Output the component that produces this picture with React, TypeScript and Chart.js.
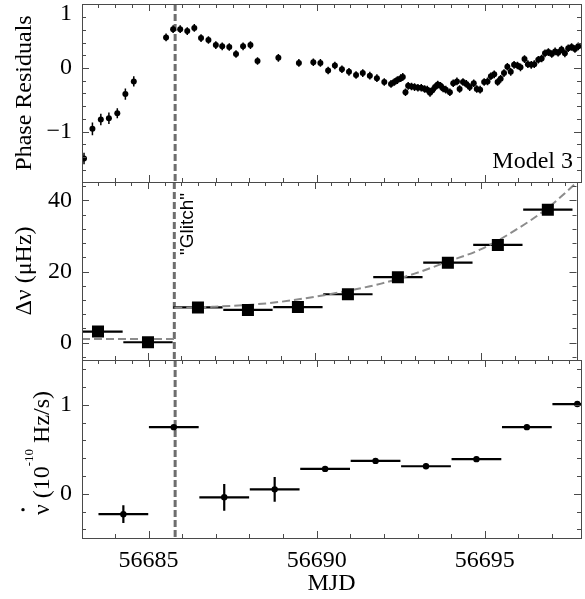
import React, { useEffect, useRef } from "react";
import { Chart, registerables } from "chart.js";

Chart.register(...registerables);

const SERIF = "'Liberation Serif', 'Times New Roman', Times, serif";
const SANS = "'Liberation Sans', Arial, Helvetica, sans-serif";
const FRAME = "#4a4a4a";

// ---- shared x axis ----
const X_MIN = 56683.02;
const X_MAX = 56697.86;
const xTickValues = [56685, 56690, 56695];
const GLITCH_MJD = 56685.79;

// ---- top panel: phase residuals ----
const phaseMjd = [
  56683.08, 56683.33, 56683.58, 56683.82, 56684.07, 56684.31, 56684.56, 56685.52, 56685.73, 56685.94,
  56686.15, 56686.36, 56686.56, 56686.78, 56687.0, 56687.19, 56687.4, 56687.6, 56687.81, 56688.03,
  56688.24, 56688.86, 56689.47, 56689.9, 56690.11, 56690.34, 56690.54, 56690.75, 56690.96, 56691.17,
  56691.37, 56691.58, 56691.79, 56692.01, 56692.21, 56692.31, 56692.4, 56692.5, 56692.56, 56692.64,
  56692.72, 56692.82, 56692.91, 56693.01, 56693.11, 56693.21, 56693.29, 56693.37, 56693.44, 56693.52,
  56693.6, 56693.68, 56693.76, 56693.84, 56693.96, 56694.06, 56694.17, 56694.25, 56694.35, 56694.45,
  56694.55, 56694.67, 56694.76, 56694.86, 56694.98, 56695.08, 56695.18, 56695.28, 56695.38, 56695.47,
  56695.57, 56695.67, 56695.77, 56695.87, 56695.97, 56696.06, 56696.18, 56696.28, 56696.38, 56696.47,
  56696.59, 56696.69, 56696.79, 56696.89, 56696.99, 56697.09, 56697.18, 56697.28, 56697.38, 56697.48,
  56697.58, 56697.68, 56697.78,
];
const phaseRes = [
  -1.42, -0.955, -0.81, -0.79, -0.71, -0.41, -0.21, 0.48, 0.61, 0.61,
  0.58, 0.63, 0.47, 0.44, 0.36, 0.34, 0.33, 0.22, 0.34, 0.36,
  0.11, 0.16, 0.08, 0.09, 0.08, -0.04, 0.04, -0.02, -0.06, -0.11,
  -0.08, -0.12, -0.16, -0.22, -0.25, -0.22, -0.19, -0.16, -0.14, -0.38,
  -0.28, -0.29, -0.3, -0.31, -0.31, -0.33, -0.34, -0.39, -0.35, -0.3,
  -0.26, -0.28, -0.32, -0.34, -0.38, -0.24, -0.21, -0.33, -0.22, -0.25,
  -0.3, -0.24, -0.33, -0.34, -0.22, -0.21, -0.13, -0.1, -0.22, -0.17,
  -0.08, 0.02, -0.06, 0.05, 0.04, 0.01, 0.14, 0.06, 0.05, 0.06,
  0.13, 0.15, 0.23, 0.25, 0.22, 0.26, 0.24, 0.29, 0.23, 0.31,
  0.33, 0.3, 0.34,
];
const phaseErr = [
  0.09, 0.1, 0.09, 0.09, 0.08, 0.09, 0.08, 0.06, 0.06, 0.06,
  0.06, 0.06, 0.06, 0.06, 0.06, 0.06, 0.06, 0.06, 0.06, 0.06,
  0.06, 0.06, 0.06, 0.06, 0.06, 0.06, 0.06, 0.06, 0.06, 0.06,
  0.06, 0.06, 0.06, 0.06, 0.06, 0.06, 0.06, 0.06, 0.06, 0.06,
  0.06, 0.06, 0.06, 0.06, 0.06, 0.06, 0.06, 0.06, 0.06, 0.06,
  0.06, 0.06, 0.06, 0.06, 0.06, 0.06, 0.06, 0.06, 0.06, 0.06,
  0.06, 0.06, 0.06, 0.06, 0.06, 0.06, 0.06, 0.06, 0.06, 0.06,
  0.06, 0.06, 0.06, 0.06, 0.06, 0.06, 0.06, 0.06, 0.06, 0.06,
  0.06, 0.06, 0.06, 0.06, 0.06, 0.06, 0.06, 0.06, 0.06, 0.06,
  0.06, 0.06, 0.06,
];
const PHASE_MIN = -1.79;
const PHASE_MAX = 1.005;
const phaseTicks = [-1, 0];
const phaseEdgeTick = [1];

// ---- middle panel: delta nu ----
const dnuMjd = [56683.5, 56685.0, 56686.5, 56688.0, 56689.5, 56691.0, 56692.5, 56694.0, 56695.5, 56697.0];
const dnu = [3.1, 0.1, 9.9, 9.2, 10.0, 13.6, 18.4, 22.5, 27.5, 37.4];
const dnuXerr = [0.74, 0.74, 0.74, 0.74, 0.74, 0.74, 0.74, 0.74, 0.74, 0.74];
const dnuYerr = [0.8, 0.8, 0.8, 1.5, 0.8, 0.8, 0.8, 0.8, 0.8, 0.8];
const modelPreMjd = [56683.02, 56685.79];
const modelPre = [1.0, 1.0];
const modelPostMjd = [56685.79, 56686.5, 56687.0, 56688.0, 56689.0, 56690.0, 56691.0, 56692.0, 56693.0, 56694.0, 56695.0, 56696.0, 56697.0, 56697.86];
const modelPost = [9.8, 9.9, 10.1, 10.6, 11.5, 12.9, 14.6, 16.6, 19.4, 22.8, 26.3, 31.5, 37.9, 45.0];
const DNU_MIN = -4.9;
const DNU_MAX = 45.2;
const dnuTicks = [0, 20, 40];

// ---- bottom panel: nu dot ----
const nuDotMjd = [56684.25, 56685.75, 56687.25, 56688.75, 56690.25, 56691.75, 56693.25, 56694.75, 56696.25, 56697.75];
const nuDot = [-0.23, 0.75, -0.04, 0.05, 0.28, 0.37, 0.31, 0.39, 0.75, 1.01];
const nuDotXerr = [0.74, 0.74, 0.74, 0.74, 0.74, 0.74, 0.74, 0.74, 0.74, 0.74];
const nuDotYerr = [0.1, 0.02, 0.15, 0.14, 0.02, 0.03, 0.03, 0.03, 0.03, 0.03];
const NUDOT_MIN = -0.498;
const NUDOT_MAX = 1.506;
const nuDotTicks = [0, 1];

// ---------------------------------------------------------------------------

const fmt = (v: number) => (v < 0 ? "\u2212" + Math.abs(v) : String(v));

function yScale(min: number, max: number, ticks: number[], title?: string) {
  return {
    type: "linear",
    position: "left",
    weight: 1,
    min,
    max,
    afterFit: (s: any) => {
      s.width = 82;
    },
    afterBuildTicks: (s: any) => {
      s.ticks = ticks.map((v) => ({ value: v }));
    },
    grid: { display: false, drawTicks: false },
    border: { display: false },
    ticks: {
      font: { family: SERIF, size: 24 },
      color: "#000",
      padding: 10,
      callback: (v: number) => fmt(v),
    },
    title: title
      ? {
          display: true,
          text: title,
          font: { family: SERIF, size: 24 },
          color: "#000",
          padding: { top: 10, bottom: 0 },
        }
      : { display: false },
  };
}

const xHidden = { type: "linear", min: X_MIN, max: X_MAX, display: false };

function baseOptions(padTop: number, padBottom: number) {
  return {
    responsive: false,
    animation: false,
    devicePixelRatio: 1,
    events: [],
    layout: { padding: { top: padTop, bottom: padBottom, left: 0, right: 0 } },
    plugins: { legend: { display: false }, tooltip: { enabled: false } },
  };
}

type ErrSet = { xs: number[]; ys: number[]; xerr?: number[]; yerr?: number[]; width: number };

function errorBarPlugin(sets: ErrSet[]) {
  return {
    id: "errbars",
    beforeDatasetsDraw(chart: any) {
      const { ctx, chartArea: a, scales } = chart;
      const xs = scales.x;
      const ys = scales.y;
      ctx.save();
      ctx.beginPath();
      ctx.rect(a.left, a.top, a.right - a.left, a.bottom - a.top);
      ctx.clip();
      ctx.strokeStyle = "#000";
      for (const s of sets) {
        ctx.lineWidth = s.width;
        ctx.beginPath();
        s.xs.forEach((xv, i) => {
          const yv = s.ys[i];
          const px = xs.getPixelForValue(xv);
          const py = ys.getPixelForValue(yv);
          if (s.xerr) {
            ctx.moveTo(xs.getPixelForValue(xv - s.xerr[i]), py);
            ctx.lineTo(xs.getPixelForValue(xv + s.xerr[i]), py);
          }
          if (s.yerr) {
            ctx.moveTo(px, ys.getPixelForValue(yv - s.yerr[i]));
            ctx.lineTo(px, ys.getPixelForValue(yv + s.yerr[i]));
          }
        });
        ctx.stroke();
      }
      ctx.restore();
    },
  };
}

function glitchPlugin(withLabel: boolean) {
  return {
    id: "glitch",
    beforeDatasetsDraw(chart: any) {
      const { ctx, chartArea: a, scales } = chart;
      const gx = scales.x.getPixelForValue(GLITCH_MJD);
      ctx.save();
      ctx.strokeStyle = "#6e6e6e";
      ctx.lineWidth = 3;
      ctx.setLineDash([7, 3]);
      ctx.beginPath();
      ctx.moveTo(gx, a.top);
      ctx.lineTo(gx, a.bottom);
      ctx.stroke();
      ctx.restore();
    },
    afterDatasetsDraw(chart: any) {
      if (!withLabel) return;
      const { ctx, chartArea: a, scales } = chart;
      const gx = scales.x.getPixelForValue(GLITCH_MJD);
      ctx.save();
      ctx.translate(gx + 19, a.top + 11);
      ctx.rotate(-Math.PI / 2);
      ctx.font = `19px ${SANS}`;
      ctx.fillStyle = "#000";
      ctx.textAlign = "right";
      ctx.textBaseline = "alphabetic";
      ctx.fillText('"Glitch"', 0, 0);
      ctx.restore();
    },
  };
}

function framePlugin(cfg: { yMinor: number; yMajor: number; xTopMinor: number; xBottomMinor: number }) {
  return {
    id: "frame",
    afterDatasetsDraw(chart: any) {
      const { ctx, chartArea: a, scales } = chart;
      const xs = scales.x;
      const ys = scales.y;
      const MAJ = 7;
      const MIN = 4;
      const isMult = (v: number, m: number) => Math.abs(v / m - Math.round(v / m)) < 1e-6;
      ctx.save();
      ctx.strokeStyle = FRAME;
      ctx.lineWidth = 1;
      ctx.beginPath();
      const xTicks = (step: number, y0: number, dir: number) => {
        for (let i = Math.ceil(X_MIN / step - 1e-9); i * step <= X_MAX + 1e-9; i++) {
          const v = i * step;
          const px = Math.round(xs.getPixelForValue(v)) + 0.5;
          const len = isMult(v, 5) ? MAJ : MIN;
          ctx.moveTo(px, y0);
          ctx.lineTo(px, y0 + dir * len);
        }
      };
      xTicks(cfg.xTopMinor, Math.round(a.top), 1);
      xTicks(cfg.xBottomMinor, Math.round(a.bottom), -1);
      for (let i = Math.ceil(ys.min / cfg.yMinor - 1e-9); i * cfg.yMinor <= ys.max + 1e-9; i++) {
        const v = i * cfg.yMinor;
        const py = Math.round(ys.getPixelForValue(v)) + 0.5;
        const len = isMult(v, cfg.yMajor) ? MAJ : MIN;
        ctx.moveTo(a.left, py);
        ctx.lineTo(a.left + len, py);
        ctx.moveTo(a.right, py);
        ctx.lineTo(a.right - len, py);
      }
      ctx.stroke();
      ctx.strokeRect(
        Math.round(a.left) + 0.5,
        Math.round(a.top) + 0.5,
        Math.round(a.right - a.left),
        Math.round(a.bottom - a.top)
      );
      ctx.restore();
    },
  };
}

const modelTextPlugin = {
  id: "modeltext",
  afterDraw(chart: any) {
    const { ctx, chartArea: a } = chart;
    ctx.save();
    ctx.font = `24px ${SERIF}`;
    ctx.fillStyle = "#000";
    ctx.textAlign = "right";
    ctx.textBaseline = "alphabetic";
    ctx.fillText("Model 3", a.right - 8, a.bottom - 14);
    ctx.restore();
  },
};

const nuDotTitlePlugin = {
  id: "nudottitle",
  afterDraw(chart: any) {
    const { ctx, chartArea: a } = chart;
    const cy = (a.top + a.bottom) / 2 + 4;
    const big = `24px ${SERIF}`;
    const small = `13px ${SERIF}`;
    const parts: { t: string; f: string; dy: number; w?: number }[] = [
      { t: "\u03BD", f: big, dy: 0 },
      { t: " (10", f: big, dy: 0 },
      { t: "-10", f: small, dy: -16 },
      { t: " Hz/s)", f: big, dy: 0 },
    ];
    ctx.save();
    ctx.translate(49, cy);
    ctx.rotate(-Math.PI / 2);
    ctx.fillStyle = "#000";
    ctx.textAlign = "left";
    ctx.textBaseline = "alphabetic";
    let total = 0;
    parts.forEach((p) => {
      ctx.font = p.f;
      p.w = ctx.measureText(p.t).width;
      total += p.w;
    });
    let x = -total / 2;
    parts.forEach((p, i) => {
      ctx.font = p.f;
      ctx.fillText(p.t, x, p.dy);
      if (i === 0) {
        ctx.beginPath();
        ctx.arc(x + (p.w as number) / 2, -26, 1.7, 0, Math.PI * 2);
        ctx.fill();
      }
      x += p.w as number;
    });
    ctx.restore();
  },
};

function configTop(): any {
  const opts: any = baseOptions(44, 30);
  opts.scales = {
    x: xHidden,
    y: yScale(PHASE_MIN, PHASE_MAX, phaseTicks, "Phase Residuals"),
    // inner zero-width axis carrying only the edge label "1", nudged below the frame top
    y2: {
      type: "linear",
      position: "left",
      weight: 0,
      min: PHASE_MIN,
      max: PHASE_MAX,
      afterFit: (s: any) => {
        s.width = 0;
      },
      afterBuildTicks: (s: any) => {
        s.ticks = phaseEdgeTick.map((v) => ({ value: v }));
      },
      grid: { display: false, drawTicks: false },
      border: { display: false },
      ticks: {
        font: { family: SERIF, size: 24 },
        color: "#000",
        mirror: true,
        padding: -22,
        labelOffset: 9,
        callback: (v: number) => fmt(v),
      },
    },
  };
  return {
    type: "scatter",
    data: {
      datasets: [
        {
          xAxisID: "x",
          yAxisID: "y",
          data: phaseMjd.map((x, i) => ({ x, y: phaseRes[i] })),
          pointRadius: 3,
          pointStyle: "circle",
          pointBackgroundColor: "#000",
          pointBorderColor: "#000",
          pointBorderWidth: 0,
          showLine: false,
        },
      ],
    },
    options: opts,
    plugins: [
      glitchPlugin(false),
      errorBarPlugin([{ xs: phaseMjd, ys: phaseRes, yerr: phaseErr, width: 1.5 }]),
      framePlugin({ yMinor: 0.2, yMajor: 1, xTopMinor: 0.5, xBottomMinor: 1 }),
      modelTextPlugin,
    ],
  };
}

function configMid(): any {
  const opts: any = baseOptions(44, 30);
  opts.scales = { x: xHidden, y: yScale(DNU_MIN, DNU_MAX, dnuTicks, "\u0394\u03BD (\u03BCHz)") };
  const dashed = {
    xAxisID: "x",
    yAxisID: "y",
    showLine: true,
    borderColor: "#8c8c8c",
    borderWidth: 2,
    borderDash: [8, 4],
    pointRadius: 0,
    cubicInterpolationMode: "monotone",
    fill: false,
  };
  return {
    type: "scatter",
    data: {
      datasets: [
        {
          xAxisID: "x",
          yAxisID: "y",
          data: dnuMjd.map((x, i) => ({ x, y: dnu[i] })),
          pointStyle: "rect",
          pointRadius: 8.5,
          pointBackgroundColor: "#000",
          pointBorderColor: "#000",
          pointBorderWidth: 0,
          showLine: false,
        },
        { ...dashed, data: modelPreMjd.map((x, i) => ({ x, y: modelPre[i] })) },
        { ...dashed, data: modelPostMjd.map((x, i) => ({ x, y: modelPost[i] })) },
      ],
    },
    options: opts,
    plugins: [
      glitchPlugin(true),
      errorBarPlugin([{ xs: dnuMjd, ys: dnu, xerr: dnuXerr, yerr: dnuYerr, width: 2.2 }]),
      framePlugin({ yMinor: 4, yMajor: 20, xTopMinor: 0.5, xBottomMinor: 1 }),
    ],
  };
}

function configBottom(): any {
  const opts: any = baseOptions(44, 0);
  opts.scales = {
    x: {
      type: "linear",
      min: X_MIN,
      max: X_MAX,
      position: "bottom",
      afterFit: (s: any) => {
        s.height = 61;
      },
      afterBuildTicks: (s: any) => {
        s.ticks = xTickValues.map((v) => ({ value: v }));
      },
      grid: { display: false, drawTicks: false },
      border: { display: false },
      ticks: {
        font: { family: SERIF, size: 24 },
        color: "#000",
        padding: 8,
        maxRotation: 0,
        autoSkip: false,
        callback: (v: number) => String(v),
      },
      title: {
        display: true,
        text: "MJD",
        font: { family: SERIF, size: 24 },
        color: "#000",
        padding: { top: 0, bottom: 1 },
      },
    },
    y: yScale(NUDOT_MIN, NUDOT_MAX, nuDotTicks),
  };
  return {
    type: "scatter",
    data: {
      datasets: [
        {
          xAxisID: "x",
          yAxisID: "y",
          data: nuDotMjd.map((x, i) => ({ x, y: nuDot[i] })),
          pointRadius: 3.2,
          pointStyle: "circle",
          pointBackgroundColor: "#000",
          pointBorderColor: "#000",
          pointBorderWidth: 0,
          showLine: false,
        },
      ],
    },
    options: opts,
    plugins: [
      glitchPlugin(false),
      errorBarPlugin([{ xs: nuDotMjd, ys: nuDot, xerr: nuDotXerr, yerr: nuDotYerr, width: 2.2 }]),
      framePlugin({ yMinor: 0.2, yMajor: 1, xTopMinor: 0.5, xBottomMinor: 1 }),
      nuDotTitlePlugin,
    ],
  };
}

export default function App() {
  const refA = useRef<HTMLCanvasElement>(null);
  const refB = useRef<HTMLCanvasElement>(null);
  const refC = useRef<HTMLCanvasElement>(null);

  useEffect(() => {
    const charts = [
      new Chart(refA.current as HTMLCanvasElement, configTop()),
      new Chart(refB.current as HTMLCanvasElement, configMid()),
      new Chart(refC.current as HTMLCanvasElement, configBottom()),
    ];
    return () => charts.forEach((c) => c.destroy());
  }, []);

  const cs = (top: number, h: number): React.CSSProperties => ({
    position: "absolute",
    left: 0,
    top,
    width: 585,
    height: h,
    display: "block",
  });

  return (
    <div
      style={{
        position: "fixed",
        left: 0,
        top: 0,
        width: 585,
        height: 599,
        overflow: "hidden",
        background: "#fff",
      }}
    >
      <canvas ref={refA} width={585} height={252} style={cs(-40, 252)} />
      <canvas ref={refB} width={585} height={252} style={cs(138, 252)} />
      <canvas ref={refC} width={585} height={283} style={cs(316, 283)} />
    </div>
  );
}
